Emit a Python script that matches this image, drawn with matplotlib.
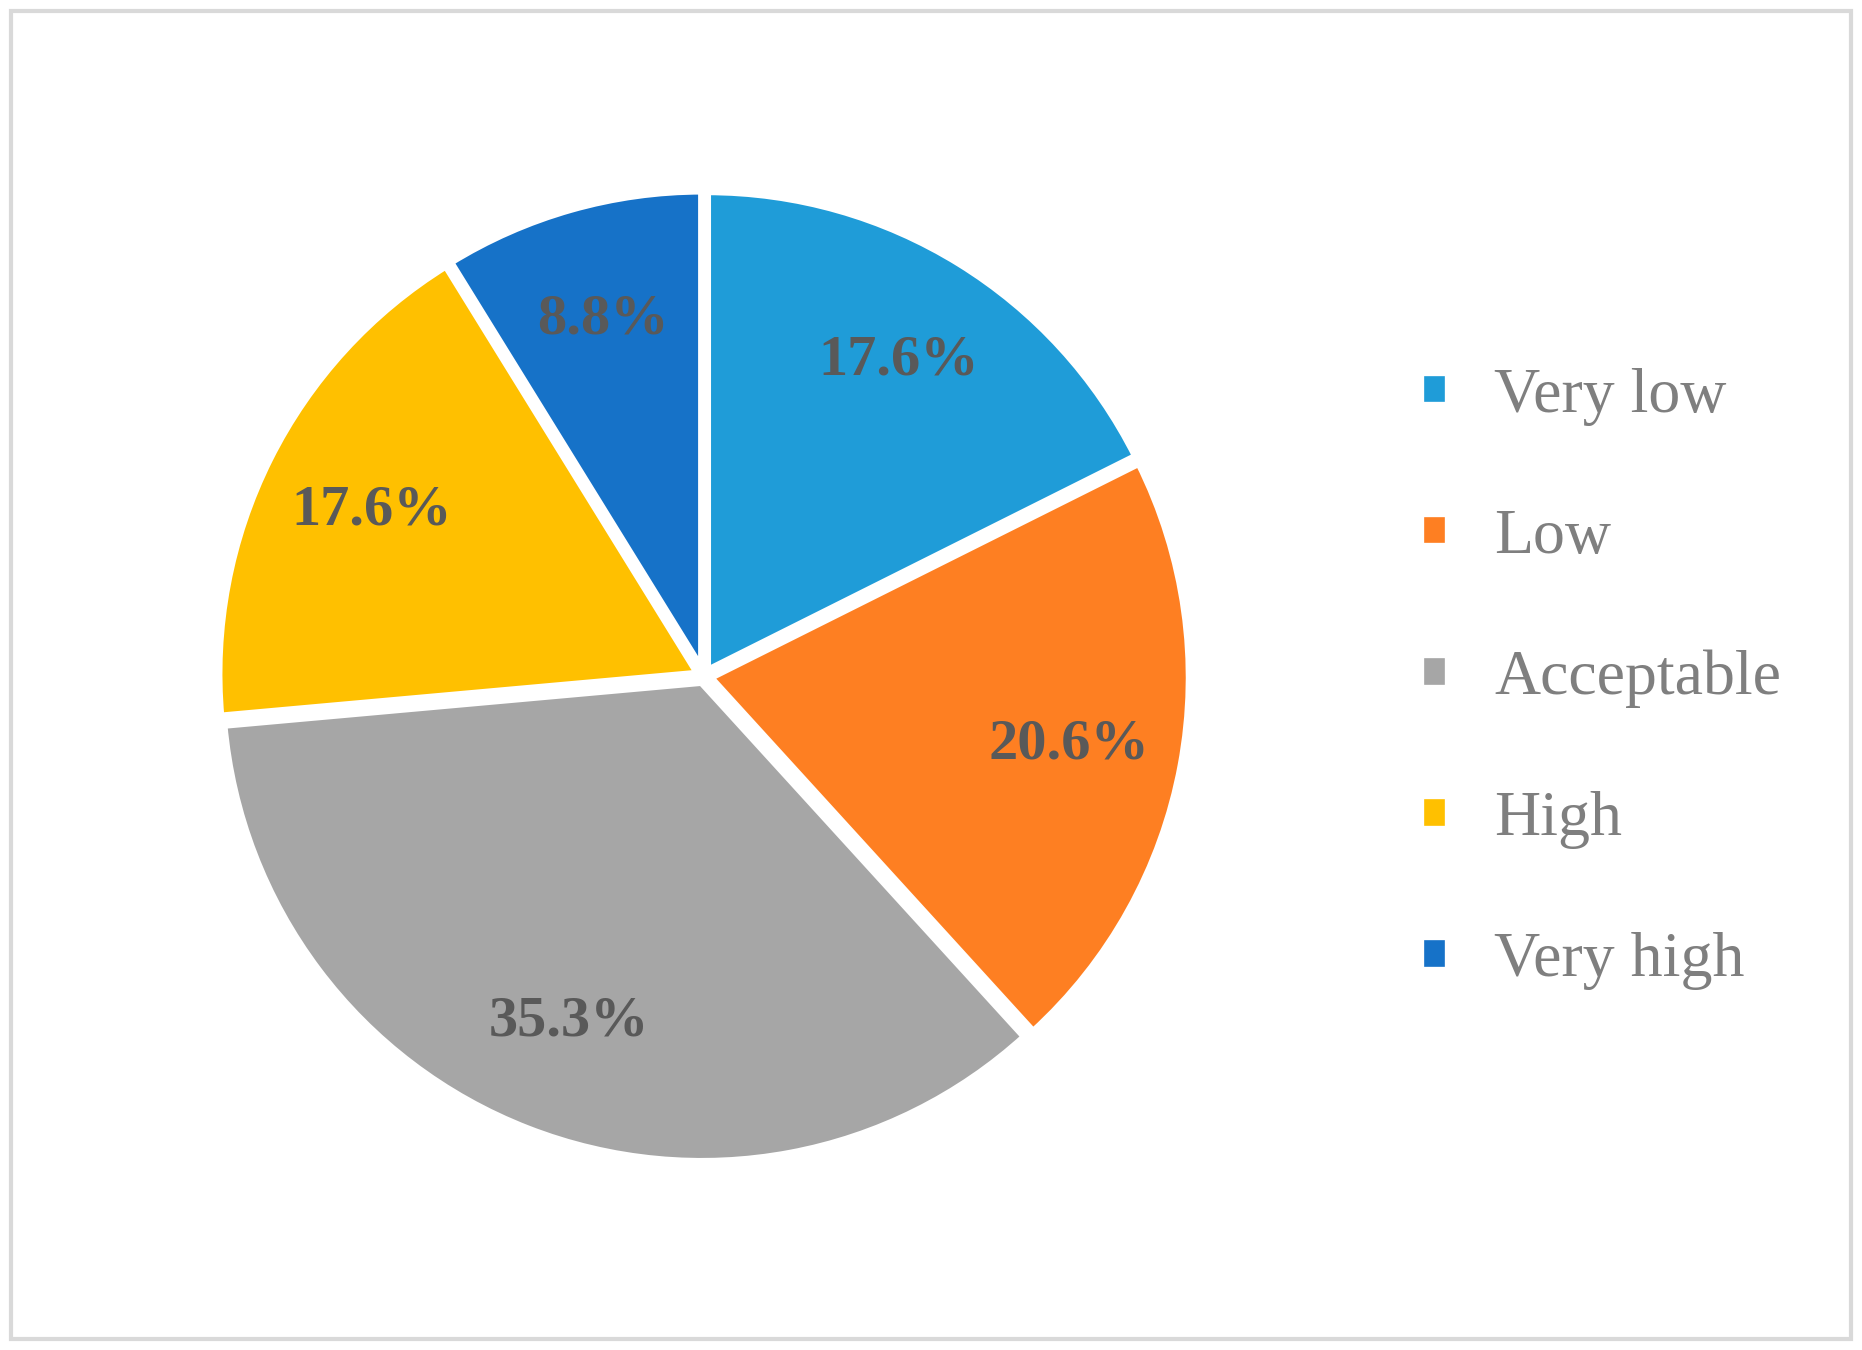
import matplotlib.pyplot as plt
from matplotlib.patches import Rectangle

categories = ["Very low", "Low", "Acceptable", "High", "Very high"]
shares = [17.6, 20.6, 35.3, 17.6, 8.8]
colors = ["#1f9cd8", "#fe7f22", "#a6a6a6", "#ffc000", "#1672c8"]

fig = plt.figure(figsize=(18.62, 13.5), dpi=100)
fig.patches.append(Rectangle((0.006, 0.008), 0.988, 0.984, transform=fig.transFigure,
                             fill=False, edgecolor="#d9d9d9", linewidth=3))

# pie area
w, h = 0.645, 0.89
ax = fig.add_axes([0.378 - w / 2, 0.499 - h / 2, w, h])
wedges, texts, autotexts = ax.pie(
    shares, colors=colors, startangle=90, counterclock=False,
    autopct="%.1f%%", pctdistance=0.76, explode=[0.012] * 5,
    wedgeprops=dict(edgecolor="white", linewidth=6),
    textprops=dict(family="Liberation Serif", fontsize=42, fontweight="bold", color="#595959"),
)
ax.set_aspect("equal")

fig.legend(wedges, categories, loc="center left", bbox_to_anchor=(0.732, 0.497),
           frameon=False, prop=dict(family="Liberation Serif", size=46),
           labelcolor="#7f7f7f", labelspacing=1.3, handlelength=0.45,
           handleheight=0.45, handletextpad=0.7)

fig.savefig("out.png", dpi=100)
